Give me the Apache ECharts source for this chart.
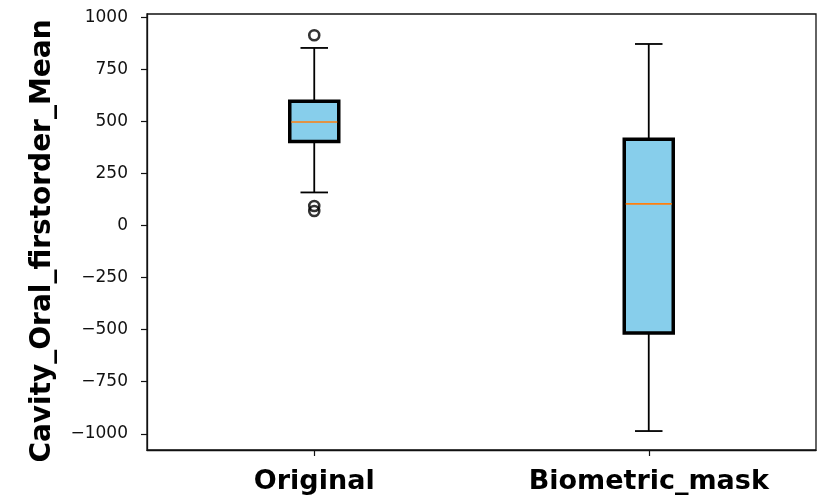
<!DOCTYPE html>
<html>
<head>
<meta charset="utf-8">
<script src="https://cdn.jsdelivr.net/npm/echarts@6/dist/echarts.min.js"></script>
<style>
html,body{margin:0;padding:0;background:#fff;}
#chart{width:818px;height:495px;}
</style>
</head>
<body>
<div id="chart"></div>
<script>
// ---- data ----
const categories = ['Original', 'Biometric_mask'];
// [min whisker, Q1, median, Q3, max whisker]
const originalStats = [159, 404, 497, 597, 853];
const biometricStats = [-987, -516, 104, 414, 872];
// outliers per category
const originalOutliers = [914, 94, 70];
const biometricOutliers = [];
const yTicks = [-1000, -750, -500, -250, 0, 250, 500, 750, 1000];
const yMin = -1078;
const yMax = 1016;

const boxData = [
  [0].concat(originalStats),
  [1].concat(biometricStats)
];
const outlierData = originalOutliers.map(v => [categories[0], v])
  .concat(biometricOutliers.map(v => [categories[1], v]));

const BOX_W = 49;
const chart = echarts.init(document.getElementById('chart'));

function renderBox(params, api) {
  const x = api.value(0);
  const lo = api.coord([x, api.value(1)]);
  const q1 = api.coord([x, api.value(2)]);
  const med = api.coord([x, api.value(3)]);
  const q3 = api.coord([x, api.value(4)]);
  const hi = api.coord([x, api.value(5)]);
  const cx = q1[0];
  const half = BOX_W / 2;
  const capHalf = BOX_W / 4 + 1.5;
  const lineStyle = {stroke: '#000', lineWidth: 1.8};
  return {
    type: 'group',
    children: [
      {type: 'line', shape: {x1: cx, y1: q3[1], x2: cx, y2: hi[1]}, style: lineStyle},
      {type: 'line', shape: {x1: cx, y1: q1[1], x2: cx, y2: lo[1]}, style: lineStyle},
      {type: 'line', shape: {x1: cx - capHalf, y1: hi[1], x2: cx + capHalf, y2: hi[1]}, style: lineStyle},
      {type: 'line', shape: {x1: cx - capHalf, y1: lo[1], x2: cx + capHalf, y2: lo[1]}, style: lineStyle},
      {type: 'rect', shape: {x: cx - half, y: q3[1], width: BOX_W, height: q1[1] - q3[1]},
        style: {fill: '#87CEEB', stroke: '#000', lineWidth: 3.5}},
      {type: 'line', shape: {x1: cx - half + 1.5, y1: med[1], x2: cx + half - 1.5, y2: med[1]},
        style: {stroke: '#FF7F0E', lineWidth: 1.6}}
    ]
  };
}

chart.setOption({
  animation: false,
  grid: {left: 147, top: 14, right: 2, bottom: 44, show: true, borderColor: '#111', borderWidth: 1.3, backgroundColor: 'transparent'},
  xAxis: {
    type: 'category',
    data: categories,
    boundaryGap: true,
    axisLine: {show: true, onZero: false, lineStyle: {color: '#111', width: 1.3}},
    axisTick: {show: true, alignWithLabel: true, length: 6, lineStyle: {color: '#111', width: 1.2}},
    axisLabel: {fontFamily: 'DejaVu Sans', fontWeight: 'bold', fontSize: 27, color: '#000', margin: 18},
    splitLine: {show: false}
  },
  yAxis: {
    type: 'value',
    min: yMin,
    max: yMax,
    name: 'Cavity_Oral_firstorder_Mean',
    nameLocation: 'middle',
    nameGap: 90,
    nameTextStyle: {fontFamily: 'DejaVu Sans', fontWeight: 'bold', fontSize: 28, color: '#000', padding: [0, 18, 0, 0]},
    axisLine: {show: true, lineStyle: {color: '#111', width: 1.3}},
    axisTick: {show: true, length: 6, customValues: yTicks, lineStyle: {color: '#111', width: 1.2}},
    axisLabel: {
      customValues: yTicks,
      fontFamily: 'DejaVu Sans', fontSize: 17, color: '#111', margin: 19,
      formatter: v => String(v).replace('-', '\u2212')
    },
    splitLine: {show: false}
  },
  series: [
    {
      type: 'custom',
      renderItem: renderBox,
      data: boxData,
      encode: {x: 0, y: [1, 2, 3, 4, 5]},
      z: 2
    },
    {
      type: 'scatter',
      data: outlierData,
      symbol: 'circle',
      symbolSize: 10,
      itemStyle: {color: 'rgba(255,255,255,0)', borderColor: '#000', borderWidth: 2.6},
      z: 5
    }
  ]
});
</script>
</body>
</html>
